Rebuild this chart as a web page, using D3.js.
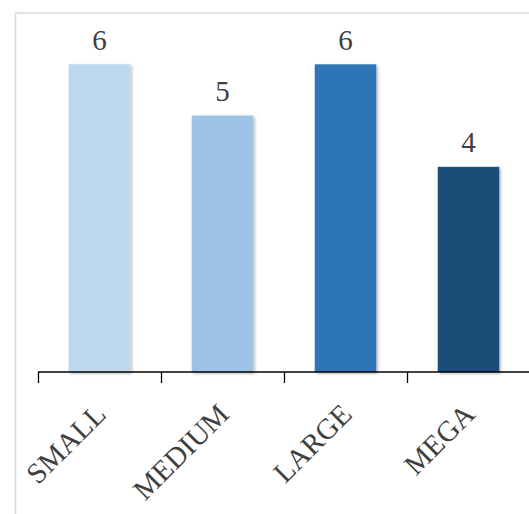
<!DOCTYPE html>
<html>
<head>
<meta charset="utf-8">
<script src="https://cdn.jsdelivr.net/npm/d3@7"></script>
<style>
  html, body { margin: 0; padding: 0; background: #fff; }
  svg { display: block; }
</style>
</head>
<body>
<svg id="chart" width="529" height="514"></svg>
<script>
// ---- data ----
const categories = ['SMALL', 'MEDIUM', 'LARGE', 'MEGA'];
const counts = [6, 5, 6, 4];
const barColors = ['#BDD7EE', '#9DC3E6', '#2E75B6', '#1F4E79'];

const W = 529, H = 514;
const baseY = 372;
const font = '"Palatino Linotype", "Book Antiqua", Palatino, "Liberation Serif", serif';

const svg = d3.select('#chart');

// chart frame (runs off the right / bottom edge like the source)
svg.append('rect').attr('x', 15.5).attr('y', 13).attr('width', W).attr('height', H)
  .attr('fill', 'none').attr('stroke', '#d9d9d9').attr('stroke-width', 1.5);

const defs = svg.append('defs');
const f = defs.append('filter').attr('id', 'shadow')
  .attr('x', '-20%').attr('y', '-20%').attr('width', '140%').attr('height', '140%');
f.append('feDropShadow').attr('dx', 1.5).attr('dy', 1.5).attr('stdDeviation', 1.8)
  .attr('flood-color', '#000').attr('flood-opacity', 0.3);

const x = d3.scaleBand().domain(categories).range([38, 530]).paddingInner(0.5).paddingOuter(0.25);
const y = d3.scaleLinear().domain([0, 7]).range([baseY, 13]);

const data = categories.map((c, i) => ({ cat: c, v: counts[i], col: barColors[i] }));

// bars
svg.append('g').selectAll('rect').data(data).join('rect')
  .attr('x', d => x(d.cat)).attr('width', x.bandwidth())
  .attr('y', d => y(d.v)).attr('height', d => y(0) - y(d.v))
  .attr('fill', d => d.col).attr('filter', 'url(#shadow)');

// value labels
svg.append('g').selectAll('text').data(data).join('text')
  .attr('x', d => x(d.cat) + x.bandwidth() / 2).attr('y', d => y(d.v) - 14.5)
  .attr('text-anchor', 'middle').attr('font-family', font).attr('font-size', 29)
  .attr('fill', '#404040').text(d => d.v);

// category axis: line plus ticks at band boundaries
const ax = svg.append('g');
ax.append('line').attr('x1', 38).attr('x2', W + 2).attr('y1', baseY).attr('y2', baseY)
  .attr('stroke', '#000').attr('stroke-width', 1.3);
d3.range(categories.length + 1).forEach(i => {
  const tx = Math.round(x.range()[0] + i * x.step()) + 0.5;
  ax.append('line').attr('x1', tx).attr('x2', tx).attr('y1', baseY).attr('y2', baseY + 11)
    .attr('stroke', '#000').attr('stroke-width', 1.3);
});

ax.selectAll('text.cat').data(categories).join('text').attr('class', 'cat')
  .attr('transform', d => `translate(${x(d) + x.bandwidth() / 2 + 8},416) rotate(-45)`)
  .attr('text-anchor', 'end').attr('font-family', font).attr('font-size', 29)
  .attr('fill', '#404040').text(d => d);
</script>
</body>
</html>
